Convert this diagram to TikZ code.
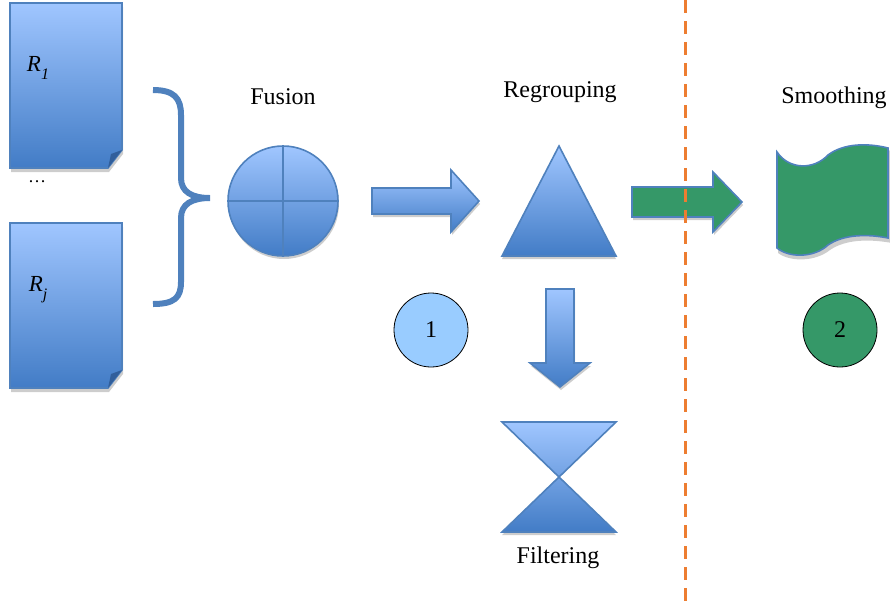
\documentclass[tikz,border=0pt]{standalone}
\usepackage{fontspec}
\setmainfont{Liberation Serif}
\definecolor{bluetop}{RGB}{160,198,255}
\definecolor{bluebot}{RGB}{66,124,198}
\definecolor{blueline}{RGB}{79,129,189}
\definecolor{bluefold}{RGB}{50,95,155}
\definecolor{greenfill}{RGB}{53,152,104}
\definecolor{lightcirc}{RGB}{153,204,255}
\definecolor{orangedash}{RGB}{237,125,49}
\definecolor{shadowgray}{RGB}{205,205,205}
\begin{document}
\begin{tikzpicture}[x=1pt,y=-1pt,
  bluebody/.style={top color=bluetop,bottom color=bluebot,draw=blueline,line width=1.6pt,line join=miter},
  lbl/.style={font=\fontsize{24}{28}\selectfont,inner sep=0pt,anchor=center},
  numcirc/.style={circle,draw=black,line width=0.8pt,minimum size=74pt,inner sep=0pt,font=\fontsize{24}{28}\selectfont}]
\useasboundingbox (0,0) rectangle (890,606);

% documents
\fill[shadowgray] (11,7) -- (123,7) -- (123,154) -- (109,172) -- (11,172) -- cycle;
\shade[bluebody] (10,3) -- (122,3) -- (122,150) -- (108,168) -- (10,168) -- cycle;
\fill[bluefold] (122,150) -- (108,168) -- (111,154) -- cycle;
\fill[shadowgray] (11,227) -- (123,227) -- (123,374) -- (109,392) -- (11,392) -- cycle;
\shade[bluebody] (10,223) -- (122,223) -- (122,370) -- (108,388) -- (10,388) -- cycle;
\fill[bluefold] (122,370) -- (108,388) -- (111,374) -- cycle;
\node[lbl,font=\fontsize{23}{26}\selectfont\itshape] (r1) at (38,68) {R\raisebox{-0.35em}{\fontsize{16}{18}\selectfont 1}};
\node[lbl,font=\fontsize{23}{26}\selectfont\itshape] (rj) at (38,290) {R\raisebox{-0.35em}{\fontsize{16}{18}\selectfont j}};
\node[lbl,font=\fontsize{18}{20}\selectfont] (dots) at (37,182) {\ldots};

% brace
\draw[blueline,line width=6pt] (153,90) .. controls (174,90) and (181,98) .. (181,115) -- (181,178)
  .. controls (181,192) and (192,198) .. (210,198)
  .. controls (192,198) and (181,204) .. (181,218) -- (181,282)
  .. controls (181,298) and (174,304) .. (153,304);

% fusion
\node[lbl] (fusion) at (283,97) {Fusion};
\fill[shadowgray] (284,204) circle (55);
\shade[bluebody] (283,201) circle (55);
\draw[blueline,line width=1.6pt] (228,201) -- (338,201) (283,146) -- (283,256);

% arrow 1
\fill[shadowgray] (373,191) -- (452,191) -- (452,173) -- (480,204) -- (452,235) -- (452,217) -- (373,217) -- cycle;
\shade[bluebody] (372,188) -- (451,188) -- (451,170) -- (479,201) -- (451,232) -- (451,214) -- (372,214) -- cycle;
\node[numcirc,fill=lightcirc] (c1) at (431,330) {1};

% regrouping
\node[lbl] (regroup) at (560,92) {Regrouping};
\fill[shadowgray] (502,259) -- (559,149) -- (616,259) -- cycle;
\shade[bluebody] (502,256) -- (559,146) -- (616,256) -- cycle;

% down arrow
\fill[shadowgray] (547,292) -- (575,292) -- (575,366) -- (591,366) -- (561,390) -- (531,366) -- (547,366) -- cycle;
\shade[bluebody] (546,289) -- (574,289) -- (574,363) -- (590,363) -- (560,387) -- (530,363) -- (546,363) -- cycle;

% hourglass
\fill[shadowgray] (502,535) -- (616,535) -- (559,480) -- cycle;
\shade[bluebody] (502,422) -- (616,422) -- (559,477) -- cycle (559,477) -- (616,532) -- (502,532) -- cycle;
\node[lbl] (filter) at (558,558) {Filtering};

% green arrow
\fill[shadowgray] (633,190) -- (714,190) -- (714,175) -- (743,205) -- (714,235) -- (714,220) -- (633,220) -- cycle;
\fill[greenfill,draw=blueline,line width=1.6pt] (632,187) -- (713,187) -- (713,172) -- (742,202) -- (713,232) -- (713,217) -- (632,217) -- cycle;

% dashed separator
\draw[orangedash,line width=3pt,dash pattern=on 13pt off 8pt] (685,0) -- (685,606);

% smoothing
\node[lbl] (smooth) at (834,98) {Smoothing};
\fill[shadowgray] (778,157) .. controls (790,173) and (815,173) .. (830,158) .. controls (846,146) and (870,146) .. (892,151)
  -- (892,243) .. controls (870,239) and (846,239) .. (830,250) .. controls (815,262) and (790,262) .. (778,253) -- cycle;
\fill[greenfill,draw=blueline,line width=1.6pt] (777,152) .. controls (789,170) and (814,170) .. (828,155) .. controls (844,143) and (868,143) .. (888,148)
  -- (888,238) .. controls (868,234) and (844,234) .. (828,245) .. controls (814,258) and (789,258) .. (777,248) -- cycle;
\node[numcirc,fill=greenfill] (c2) at (840,330) {2};
\end{tikzpicture}
\end{document}
